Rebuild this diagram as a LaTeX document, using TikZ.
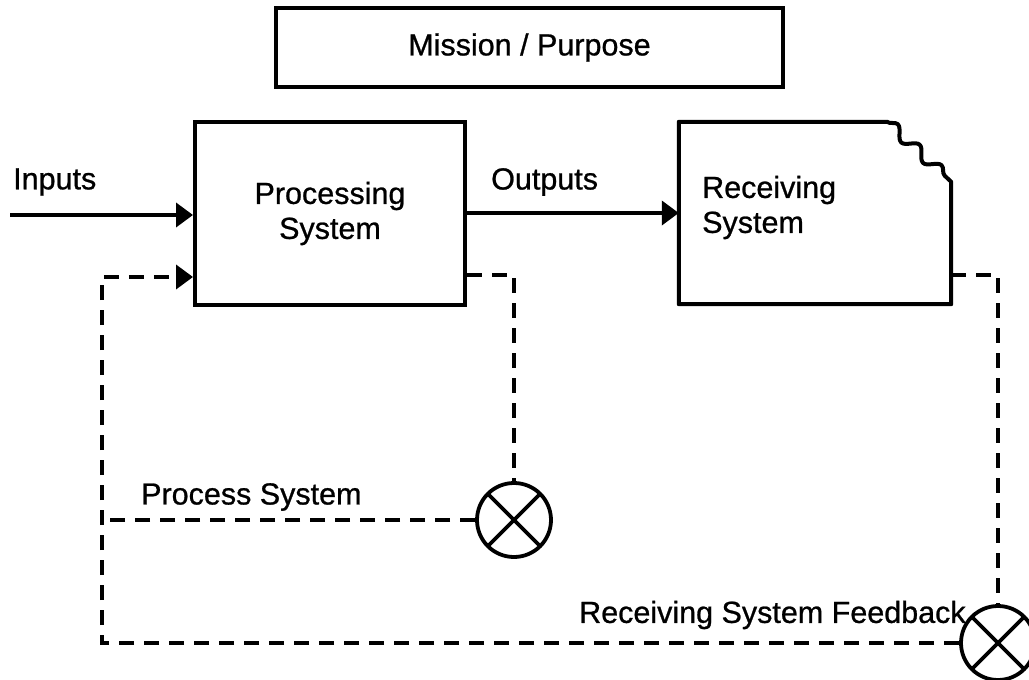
\documentclass[tikz,border=0pt]{standalone}
\usepackage{fontspec}
\setmainfont{Liberation Sans}[FakeBold=0.8]
\usetikzlibrary{arrows.meta,decorations.pathmorphing,calc}

\begin{document}
\begin{tikzpicture}[x=1pt,y=-1pt,
  lbl/.style={font=\fontsize{30.5}{35}\selectfont, inner sep=0pt},
  boxline/.style={line width=4pt},
  fb/.style={line width=3.8pt, dash pattern=on 15pt off 10pt},
  tip/.style={-{Triangle[length=17pt,width=24pt]}},
  arr/.style={tip, line width=3.8pt},
  sumjct/.style={circle, draw, line width=3.8pt, minimum size=74pt, inner sep=0pt,
    path picture={\draw[line width=3.8pt]
      (path picture bounding box.north west) -- (path picture bounding box.south east)
      (path picture bounding box.north east) -- (path picture bounding box.south west);}}
]
\useasboundingbox (0,0) rectangle (1029,680);
\clip (0,0) rectangle (1029,680);

% boxes
\node[draw, boxline, lbl, minimum width=507pt, minimum height=79pt] (mission) at (529.5,47.5) {Mission / Purpose};
\node[draw, boxline, lbl, align=center, minimum width=270pt, minimum height=183pt] (proc) at (330,213.5) {Processing\\System};
\node[minimum width=272pt, minimum height=182pt, inner sep=0pt] (recv) at (815,213) {};
\node[lbl, align=left, anchor=west] (recvtxt) at (702,207.5) {Receiving\\System};
\draw[boxline, line join=round] (recv.south west) -- (recv.north west) -- ($(recv.north east)+(-64,0)$)
  decorate[decoration={snake, segment length=30pt, amplitude=5.5pt}] { -- ($(recv.north east)+(0,60)$) }
  -- (recv.south east) -- cycle;

% forward flow
\coordinate (instart) at (10,215);
\draw[arr] (instart) -- (proc.west |- instart);
\draw[arr] (proc.east |- recv.west) -- (recv.west);
\node[lbl, anchor=west] (inlbl) at (13,182) {Inputs};
\node[lbl, anchor=west] (outlbl) at (491,182) {Outputs};

% summing junctions
\node[sumjct] (sum1) at (514,520) {};
\node[sumjct] (sum2) at (998,643) {};

% feedback loops
\coordinate (pout) at (0,275);
\coordinate (rout) at (0,275);
\coordinate (pin) at (0,277);
\coordinate (leftx) at (102,0);
\draw[fb] (proc.east |- pout) -- (sum1 |- pout) -- (sum1.north);
\draw[fb] (recv.east |- rout) -- (sum2 |- rout) -- (sum2.north);
\draw[fb] (sum1.west) -- (leftx |- sum1.west);
\draw[fb, tip] (sum2.west) -- (leftx |- sum2.west) -- (leftx |- pin) -- (proc.west |- pin);

\node[lbl, anchor=west] (pslbl) at (141,497) {Process System};
\node[lbl, anchor=west] (rsflbl) at (579,615) {Receiving System Feedback};
\end{tikzpicture}
\end{document}
